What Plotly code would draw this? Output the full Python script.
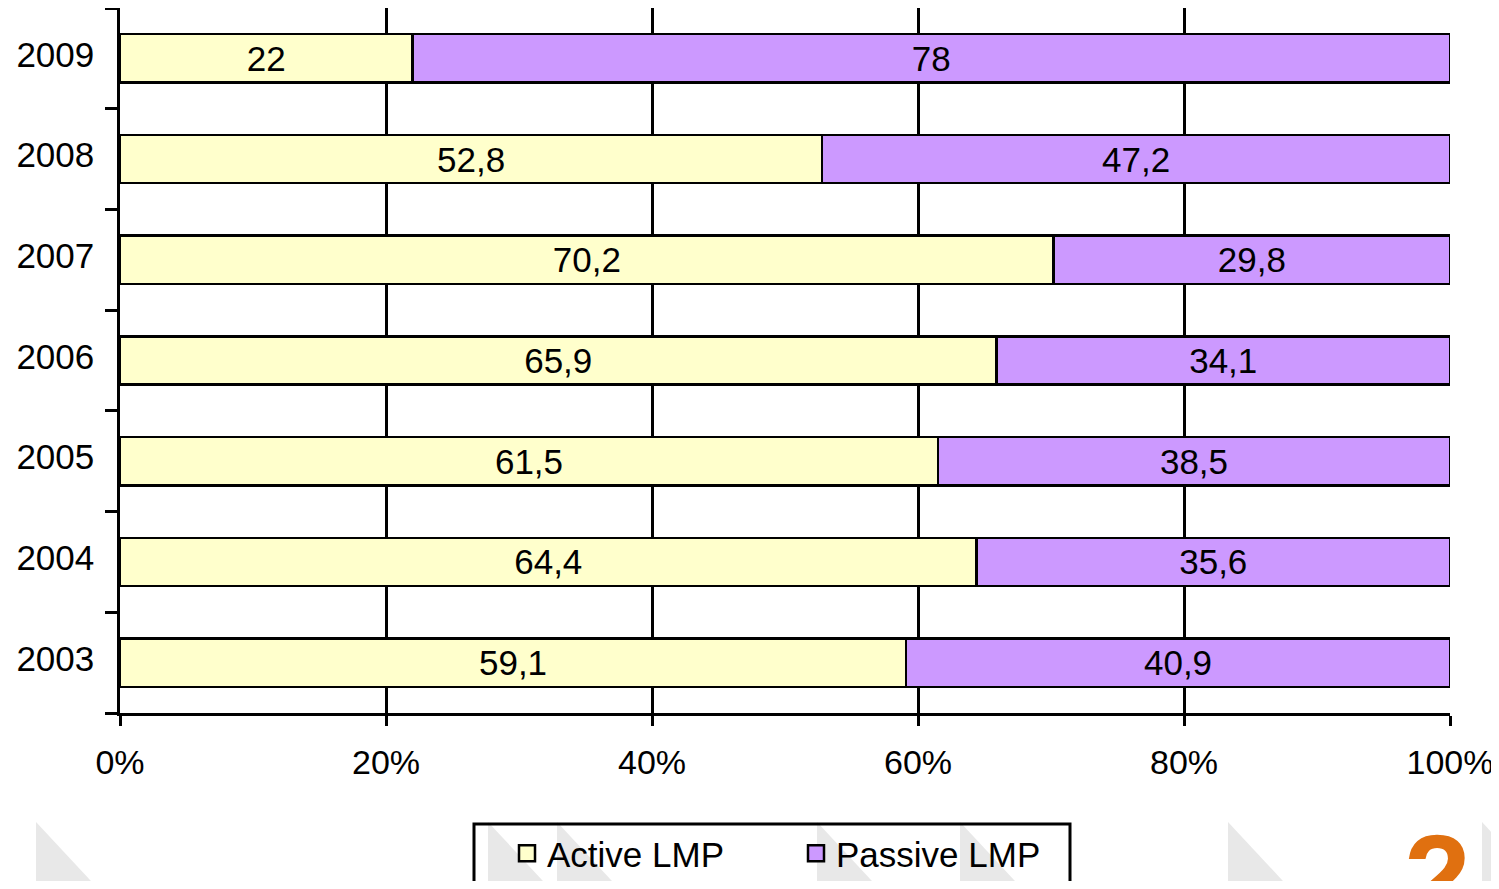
import plotly.graph_objects as go

years = ["2003", "2004", "2005", "2006", "2007", "2008", "2009"]
active = [59.1, 64.4, 61.5, 65.9, 70.2, 52.8, 22]
passive = [40.9, 35.6, 38.5, 34.1, 29.8, 47.2, 78]
x_ticks = [0, 20, 40, 60, 80, 100]
series_names = ["Active LMP", "Passive LMP"]
series_colors = ["#FFFFCC", "#CC99FF"]

def fmt(v):
    s = ("%g" % v)
    return s.replace(".", ",")

FONT = "Liberation Sans, Arial, sans-serif"
OFF = 8  # page body offset
W, H = 1499 - OFF, 889 - 2 * OFF
L, R, T, B = 120 - OFF, 49, 0, H - 705
PW = W - L - R
PH = H - T - B

# screen pixel -> paper coordinates
def px(xp):
    return (xp - OFF - L) / PW

def py(yp):
    return (H - B - (yp - OFF)) / PH

# screen pixel -> container coordinates
def cx(xp):
    return (xp - OFF) / W

def cy(yp):
    return 1 - (yp - OFF) / H

fig = go.Figure()
for vals, name, col in [(active, series_names[0], series_colors[0]),
                        (passive, series_names[1], series_colors[1])]:
    fig.add_trace(go.Bar(
        y=years, x=vals, orientation="h", name=name, showlegend=False,
        marker=dict(color=col, line=dict(color="black", width=2.5)),
        text=[fmt(v) for v in vals], textposition="inside",
        insidetextanchor="middle", textangle=0,
        textfont=dict(size=35, color="black", family=FONT),
        hoverinfo="skip",
    ))
# legend entries with larger square symbols
for name, col in zip(series_names, series_colors):
    fig.add_trace(go.Scatter(
        x=[None], y=[None], mode="markers", name=name,
        marker=dict(symbol="square", size=16, color=col, line=dict(color="black", width=2.5)),
        hoverinfo="skip",
    ))

# decorative background triangles
shapes = []
for x0 in [36, 488, 557, 817, 960, 1228, 1482]:
    x1 = x0 + 68
    shapes.append(dict(
        type="path", xref="paper", yref="paper", layer="below",
        path="M %f,%f L %f,%f L %f,%f Z" % (px(x0), py(822), px(x1), py(895), px(x0), py(895)),
        fillcolor="#e8e8e8", line=dict(width=0),
    ))
# legend frame
shapes.append(dict(
    type="rect", xref="paper", yref="paper", layer="above",
    x0=px(474), x1=px(1070), y0=py(824), y1=py(905),
    line=dict(color="black", width=3), fillcolor="rgba(0,0,0,0)",
))

fig.update_layout(
    width=W, height=H,
    margin=dict(l=L, r=R, t=T, b=B, pad=0, autoexpand=False),
    barmode="stack", bargap=0.52,
    plot_bgcolor="rgba(0,0,0,0)", paper_bgcolor="white",
    font=dict(family=FONT, size=35, color="black"),
    showlegend=True,
    legend=dict(
        orientation="h", xref="container", yref="container",
        x=cx(507), xanchor="left", y=cy(824), yanchor="top",
        borderwidth=0, bgcolor="rgba(0,0,0,0)",
        font=dict(size=35, family=FONT, color="black"),
        entrywidth=244, entrywidthmode="pixels",
        itemsizing="trace", traceorder="normal",
    ),
    shapes=shapes,
    annotations=[dict(
        text="<b>2</b>", x=px(1437), y=py(808), xref="paper", yref="paper",
        xanchor="center", yanchor="top", showarrow=False,
        font=dict(size=120, color="#E07010", family=FONT),
    )],
)
fig.update_xaxes(
    range=[0, 100], tickvals=x_ticks, ticktext=[f"{v}%" for v in x_ticks],
    showgrid=True, gridcolor="black", gridwidth=2.5,
    showline=True, linecolor="black", linewidth=2.5,
    ticks="outside", ticklen=10, tickwidth=2.5, tickcolor="black",
    tickfont=dict(size=34, family=FONT), ticklabelstandoff=7,
    zeroline=False, fixedrange=True, automargin=False,
)
fig.update_yaxes(
    type="category", categoryorder="array", categoryarray=years,
    showgrid=False, showline=True, linecolor="black", linewidth=2.5,
    ticks="outside", tickson="boundaries", ticklen=12, tickwidth=2.5, tickcolor="black",
    tickfont=dict(size=35, family=FONT), ticklabelstandoff=16, ticklabelshift=-4,
    zeroline=False, fixedrange=True, automargin=False,
)

fig.write_html("out.html")
